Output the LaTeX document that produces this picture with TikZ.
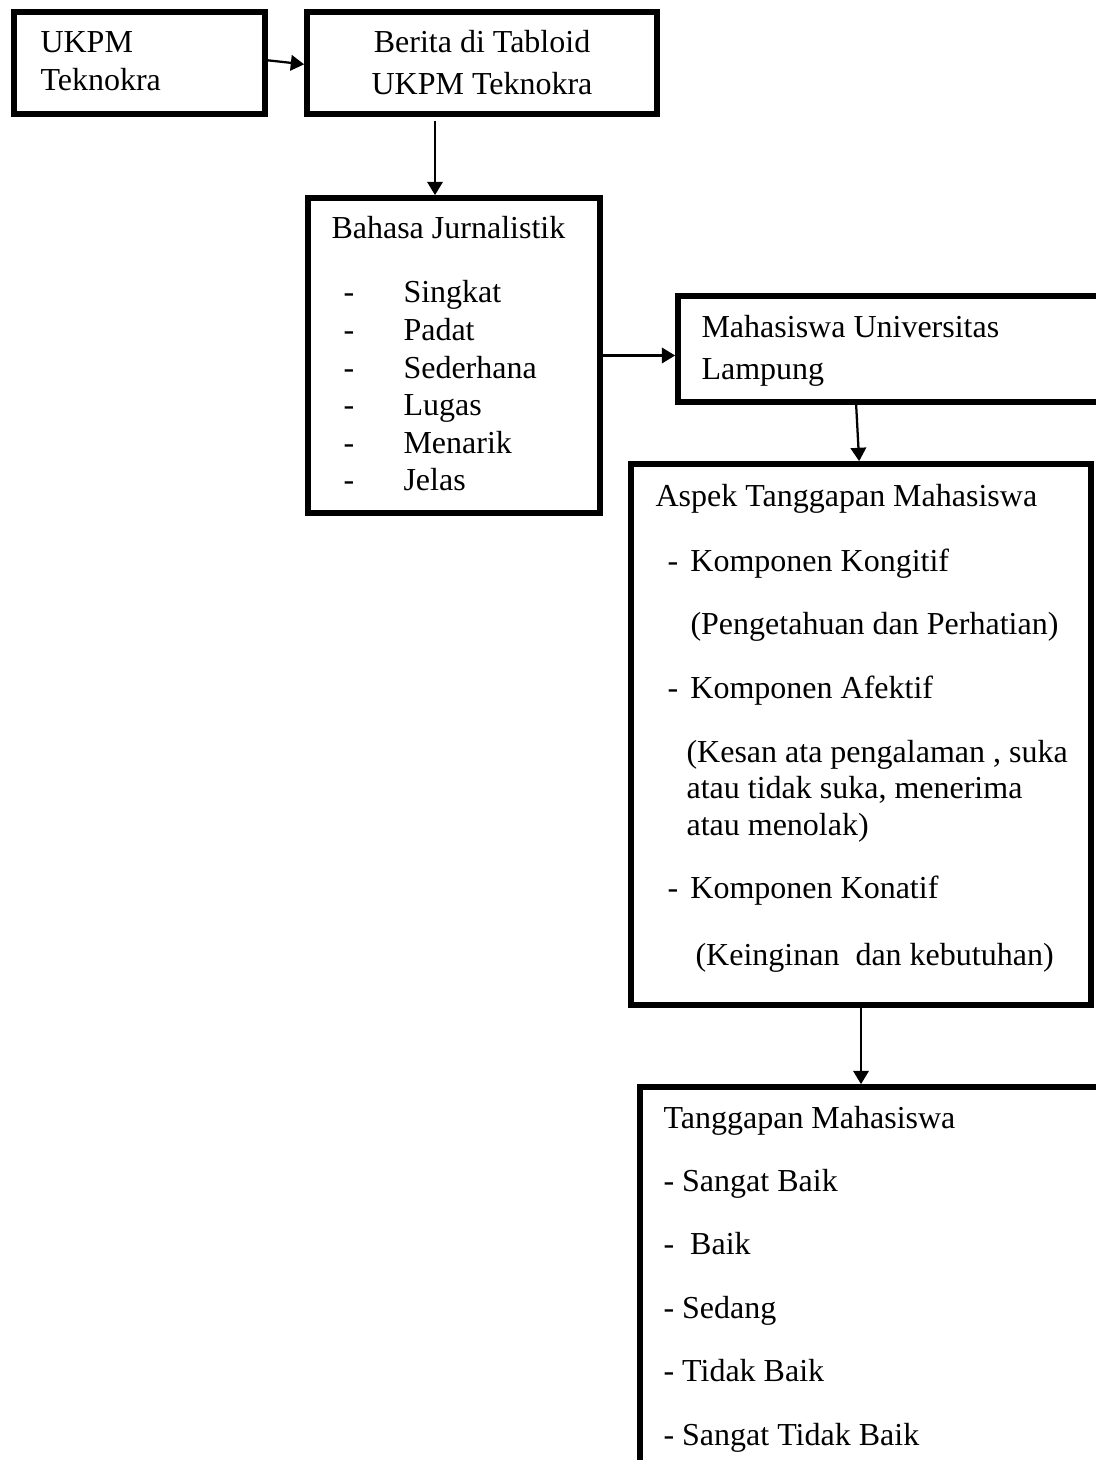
\documentclass[tikz,border=0pt]{standalone}
\usepackage{fontspec}
\setmainfont{Liberation Serif}
\usetikzlibrary{arrows.meta}
\usetikzlibrary{calc}
\usetikzlibrary{fit}

\tikzset{
  box/.style={draw, line width=2.15pt, inner sep=0pt},
  txt/.style={anchor=base west, inner sep=0pt, font=\fontsize{12pt}{14pt}\selectfont},
  arrowLine/.style={-{Triangle[length=5pt,width=5.8pt]}, line width=0.85pt}
}

\begin{document}
\begin{tikzpicture}[x=0.375pt, y=-0.375pt]
    \useasboundingbox (0,0) rectangle (1096,1460);
    \clip (0,0) rectangle (1096,1460);

    % boxes
    \node[box, fit={(14,12) (265,114)}] (ukpm) {};
    \node[box, fit={(307,12) (657,114)}] (berita) {};
    \node[box, fit={(308,198) (600,513)}] (bahasa) {};
    \node[box, fit={(678,296) (1130,402)}] (mahasiswa) {};
    \node[box, fit={(631,464) (1091,1005)}] (aspek) {};
    \node[box, fit={(640,1087) (1130,1520)}] (tanggapan) {};

    % texts
    \node[txt] (ukpmLineA) at (40,53) {UKPM};
    \node[txt] (ukpmLineB) at (40,91) {Teknokra};
    \node[txt, anchor=base] (beritaLineA) at (482,53) {Berita di Tabloid};
    \node[txt, anchor=base] (beritaLineB) at (482,95) {UKPM Teknokra};

    \node[txt] (bahasaTitle) at (331,239) {Bahasa Jurnalistik};
    \foreach \word [count=\i] in {Singkat,Padat,Sederhana,Lugas,Menarik,Jelas}
      \node[txt] (bahasaItem\i) at (343,265.4+37.6*\i) {\makebox[22.5pt][l]{-}\word};

    \node[txt] (mhsLineA) at (701,338) {Mahasiswa Universitas};
    \node[txt] (mhsLineB) at (701,380) {Lampung};

    \node[txt] (aspekTitle) at (655,507) {Aspek Tanggapan Mahasiswa};
    \node[txt] (kognitif) at (667,572) {\makebox[8.6pt][l]{-}Komponen Kongitif};
    \node[txt] (kognitifNote) at (690,635) {(Pengetahuan dan Perhatian)};
    \node[txt] (afektif) at (667,698) {\makebox[8.6pt][l]{-}Komponen Afektif};
    \node[txt] (afektifNoteA) at (686,762) {(Kesan ata pengalaman , suka};
    \node[txt] (afektifNoteB) at (686,798) {atau tidak suka, menerima};
    \node[txt] (afektifNoteC) at (686,835) {atau menolak)};
    \node[txt] (konatif) at (667,898) {\makebox[8.6pt][l]{-}Komponen Konatif};
    \node[txt] (konatifNote) at (695,965) {(Keinginan\ \ dan kebutuhan)};

    \node[txt] (tanggapanTitle) at (663,1128) {Tanggapan Mahasiswa};
    \foreach \word [count=\i] in {{- Sangat Baik},{-\ \ Baik},{- Sedang},{- Tidak Baik},{- Sangat Tidak Baik}}
      \node[txt] (tanggapanItem\i) at (663,1128+63.4*\i) {\word};

    % arrows
    \draw[arrowLine] ([yshift=1pt]ukpm.east) -- ([yshift=-0.5pt]berita.west);
    \draw[arrowLine] ($(berita.south)+(-47,4)$) -- ($(bahasa.north)+(-19,0)$);
    \draw[arrowLine] (bahasa.east) -- (bahasa.east -| mahasiswa.west);
    \draw[arrowLine] ($(mahasiswa.south west)+(181,0)$) -- ($(aspek.north west)+(231,0)$);
    \draw[arrowLine] (aspek.south) -- (aspek.south |- tanggapan.north);
\end{tikzpicture}
\end{document}
